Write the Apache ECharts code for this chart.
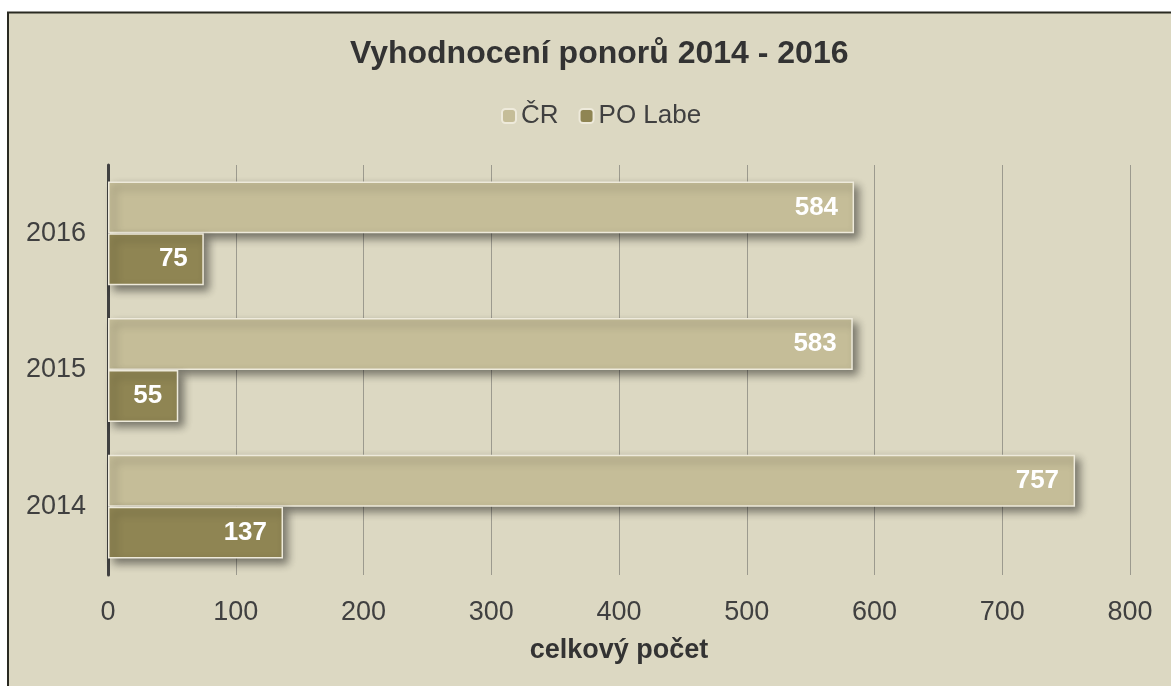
<!DOCTYPE html>
<html>
<head>
<meta charset="utf-8">
<script src="https://cdn.jsdelivr.net/npm/echarts@6/dist/echarts.min.js"></script>
<style>
  html, body { margin: 0; padding: 0; background: #ffffff; }
  #chart { width: 1171px; height: 686px; }
</style>
</head>
<body>
<div id="chart"></div>
<script>
// data
const years = ["2014", "2015", "2016"];
const crValues = [757, 583, 584];
const labeValues = [137, 55, 75];
const seriesNames = ["ČR", "PO Labe"];
const xTicks = [0, 100, 200, 300, 400, 500, 600, 700, 800];

const chart = echarts.init(document.getElementById("chart"));

const barStyle = (color) => ({
  color: color,
  borderColor: "#eeeadb",
  borderWidth: 1.5,
  shadowColor: "rgba(0,0,0,0.45)",
  shadowBlur: 8,
  shadowOffsetX: 5,
  shadowOffsetY: 5,
});

const labelStyle = {
  show: true,
  position: "insideRight",
  distance: 16,
  color: "#ffffff",
  fontSize: 26,
  fontWeight: "bold",
  fontFamily: "Liberation Sans, Arial, sans-serif",
};

chart.setOption({
  backgroundColor: "#ffffff",
  textStyle: { fontFamily: "Liberation Sans, Arial, sans-serif" },
  graphic: [
    // panel background with dark left/top edge
    {
      type: "rect",
      z: -10,
      shape: { x: 8, y: 12, width: 1163, height: 674 },
      style: { fill: "#dcd8c2" },
    },
    {
      type: "polyline",
      z: -9,
      shape: { points: [[8, 686], [8, 12.5], [1171, 12.5]] },
      style: { stroke: "#2a2a22", lineWidth: 2, fill: null },
    },
  ],
  title: {
    text: "Vyhodnocení ponorů 2014 - 2016",
    left: 345,
    top: 33,
    textStyle: { fontSize: 32, fontWeight: "bold", color: "#333333" },
  },
  legend: {
    data: seriesNames,
    top: 98,
    left: 496,
    itemWidth: 14,
    itemHeight: 14,
    itemGap: 20,
    textStyle: { fontSize: 26, color: "#404040" },
  },
  grid: { left: 108, right: 41, top: 165, bottom: 111 },
  xAxis: {
    type: "value",
    min: 0,
    max: 800,
    interval: 100,
    name: "celkový počet",
    nameLocation: "middle",
    nameGap: 62,
    nameTextStyle: { fontSize: 27, fontWeight: "bold", color: "#333333" },
    axisLine: { show: false },
    axisTick: { show: false },
    axisLabel: {
      fontSize: 27,
      color: "#404040",
      margin: 24,
      customValues: xTicks,
    },
    splitLine: { show: true, lineStyle: { color: "#9c9a8e", width: 1 } },
  },
  yAxis: {
    type: "category",
    data: years,
    axisLine: { show: true, lineStyle: { color: "#404040", width: 3 } },
    axisTick: { show: false },
    axisLabel: { fontSize: 27, color: "#404040", margin: 22 },
  },
  series: [
    {
      name: seriesNames[0],
      type: "bar",
      data: crValues,
      barGap: "0%",
      barCategoryGap: "24%",
      itemStyle: barStyle("#c5bd98"),
      label: labelStyle,
    },
    {
      name: seriesNames[1],
      type: "bar",
      data: labeValues,
      barGap: "0%",
      barCategoryGap: "24%",
      itemStyle: barStyle("#8f8553"),
      label: labelStyle,
    },
  ],
});
</script>
</body>
</html>
